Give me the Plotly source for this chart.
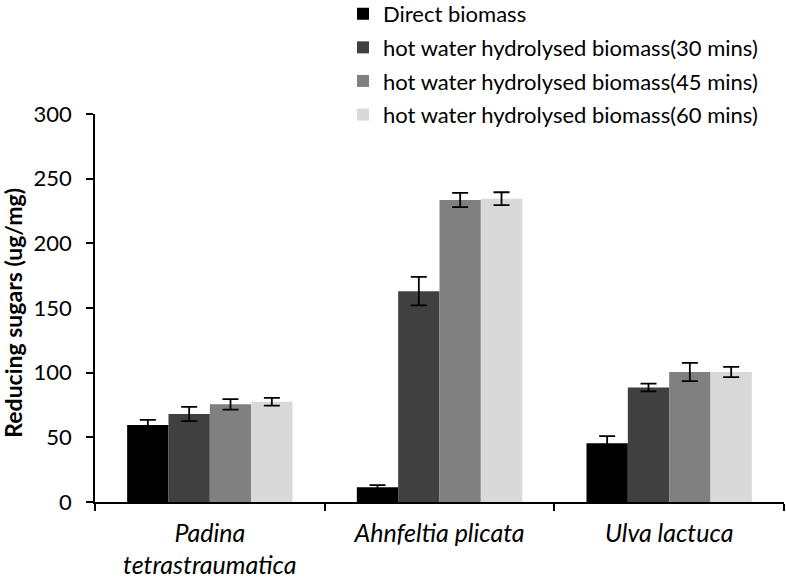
import plotly.graph_objects as go

categories = ["Padina tetrastraumatica", "Ahnfeltia plicata", "Ulva lactuca"]
tick_labels = ["<i>Padina</i><br><i>tetrastraumatica</i>", "<i>Ahnfeltia plicata</i>", "<i>Ulva lactuca</i>"]

series_names = [
    "Direct biomass",
    "hot water hydrolysed biomass(30 mins)",
    "hot water hydrolysed biomass(45 mins)",
    "hot water hydrolysed biomass(60 mins)",
]
direct = [59.5, 11.5, 45.5]
hw30 = [68, 163, 88.5]
hw45 = [75.5, 233.5, 100.5]
hw60 = [77.5, 234.5, 100.5]

direct_err = [4, 1.5, 5.5]
hw30_err = [5.5, 11, 3]
hw45_err = [4, 5.5, 7]
hw60_err = [3, 5, 4]

colors = ["#000000", "#404040", "#808080", "#d9d9d9"]

values = [direct, hw30, hw45, hw60]
errors = [direct_err, hw30_err, hw45_err, hw60_err]

FONT = "Lato"

fig = go.Figure()
for i, (name, vals, errs) in enumerate(zip(series_names, values, errors)):
    fig.add_trace(go.Bar(
        x=categories, y=vals, name=name, legendgroup=f"g{i}",
        marker=dict(color=colors[i], line=dict(width=0)),
        error_y=dict(type="data", array=errs, visible=True, color="#000000",
                     thickness=1.8, width=8),
    ))

fig.update_layout(
    width=786, height=580,
    margin=dict(l=95, r=2, t=114, b=78, autoexpand=False),
    paper_bgcolor="white", plot_bgcolor="white",
    barmode="group", bargap=0.28, bargroupgap=0,
    font=dict(family=FONT, color="#000000", size=21),
    showlegend=True,
    legend=dict(
        x=0.4364, xanchor="left", y=1.312, yanchor="top",
        xref="container", yref="paper",
        font=dict(family=FONT, size=22, color="#000000"),
        bgcolor="rgba(0,0,0,0)", tracegroupgap=2,
        itemwidth=30,
    ),
    xaxis=dict(
        tickvals=categories, ticktext=tick_labels,
        tickson="boundaries", ticks="outside", ticklen=7, tickwidth=1.5,
        tickcolor="#000000",
        showline=True, linecolor="#000000", linewidth=1.5,
        showgrid=False, zeroline=False, automargin=False,
        tickfont=dict(family=FONT, size=25),
        ticklabelstandoff=8,
    ),
    yaxis=dict(
        range=[0, 300], dtick=50, ticks="outside", ticklen=7, tickwidth=1.5,
        tickcolor="#000000",
        showline=True, linecolor="#000000", linewidth=1.5,
        showgrid=False, zeroline=False, automargin=False,
        tickfont=dict(family=FONT, size=22),
        ticklabelstandoff=10,
    ),
    annotations=[dict(
        text="<b>Reducing sugars (ug/mg)</b>", textangle=-90,
        xref="paper", yref="paper", x=-0.1195, y=0.487,
        xanchor="center", yanchor="middle", showarrow=False,
        font=dict(family=FONT, size=23, color="#000000"),
    )],
)

fig.write_html(
    "out.html",
    config={"displayModeBar": False},
    post_script="document.body.style.margin='0';document.body.style.overflow='hidden';",
)
